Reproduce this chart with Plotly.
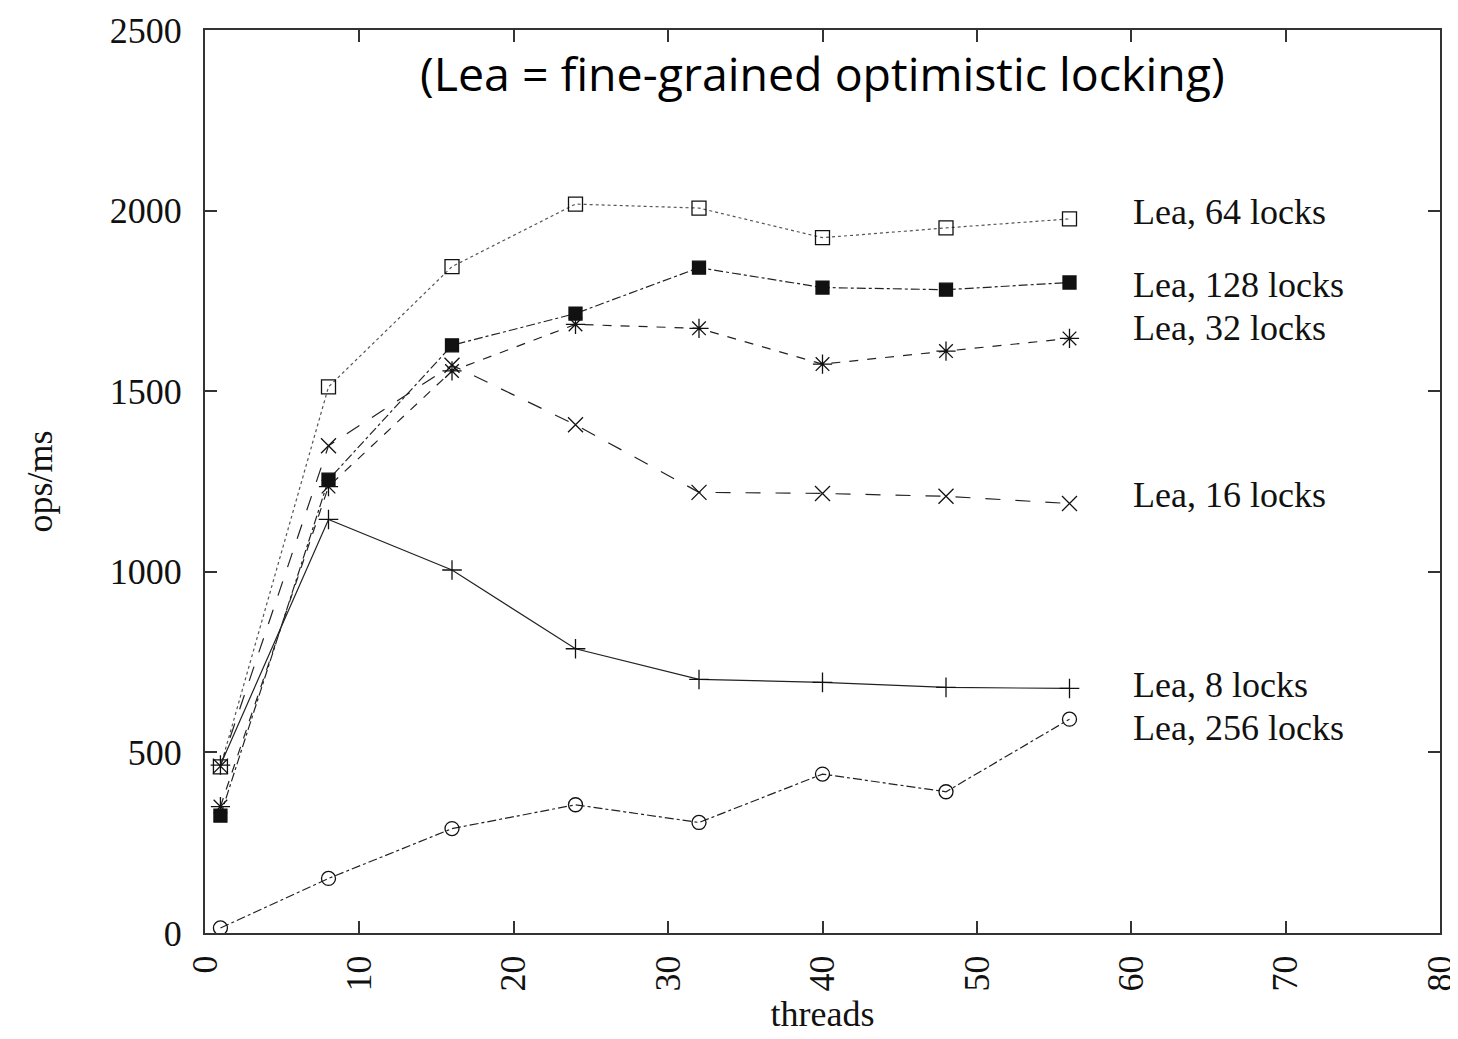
import plotly.graph_objects as go

threads = [1, 8, 16, 24, 32, 40, 48, 56]

lea_64 = [460, 1512, 1845, 2018, 2007, 1925, 1952, 1977]
lea_128 = [325, 1255, 1627, 1715, 1842, 1787, 1781, 1801]
lea_32 = [350, 1236, 1556, 1685, 1674, 1575, 1611, 1646]
lea_16 = [462, 1349, 1572, 1407, 1220, 1217, 1209, 1189]
lea_8 = [465, 1145, 1005, 787, 702, 694, 680, 677]
lea_256 = [14, 151, 289, 355, 306, 440, 391, 592]

names = ["Lea, 64 locks", "Lea, 128 locks", "Lea, 32 locks",
         "Lea, 16 locks", "Lea, 8 locks", "Lea, 256 locks"]
label_y = [1996, 1795, 1674, 1214, 686, 567]

serif = "Liberation Serif, Times New Roman, serif"

fig = go.Figure()

# (values, marker symbol, marker size, dash, colour)
series = [
    (lea_64, "square-open", 14, "dot", "#555"),
    (lea_128, "square", 13, "dashdot", "#222"),
    (lea_32, "asterisk-open", 16, "dash", "#222"),
    (lea_16, "x-thin-open", 15, "longdash", "#222"),
    (lea_8, "cross-thin-open", 14, "solid", "#222"),
    (lea_256, "circle-open", 14, "dashdot", "#222"),
]

for (vals, sym, size, dash, col), name in zip(series, names):
    fig.add_trace(go.Scatter(
        x=threads, y=vals, mode="lines+markers", name=name,
        line=dict(color=col, width=1.2, dash=dash),
        marker=dict(symbol=sym, size=size, color="#111",
                    line=dict(color="#111", width=1.3)),
    ))

for name, y in zip(names, label_y):
    fig.add_annotation(x=60, y=y, xref="x", yref="y", text=name,
                       showarrow=False, xanchor="left", yanchor="middle",
                       font=dict(family=serif, size=36, color="#111"))

fig.add_annotation(x=0.5, y=0.952, xref="paper", yref="paper",
                   text="(Lea = fine-grained optimistic locking)",
                   showarrow=False, xanchor="center", yanchor="middle",
                   font=dict(family="Open Sans, Lato, sans-serif", size=46.5, color="#000"))

axis_common = dict(showgrid=False, zeroline=False, showline=True, linecolor="#333",
                   linewidth=2, mirror="ticks", ticks="inside", ticklen=12,
                   tickcolor="#333", tickwidth=2, automargin=False,
                   ticklabeloverflow="allow",
                   tickfont=dict(family=serif, size=36, color="#111"))

fig.update_xaxes(range=[0, 80], dtick=10, tickangle=-90, ticklabelstandoff=6,
                 title=dict(text="threads", font=dict(family=serif, size=36, color="#111"), standoff=10),
                 **axis_common)
fig.update_yaxes(range=[0, 2500], dtick=500, ticklabelstandoff=14,
                 title=dict(text="ops/ms", font=dict(family=serif, size=36, color="#111"), standoff=46),
                 **axis_common)

fig.update_layout(
    width=1458, height=1039,
    margin=dict(l=197, r=26, t=22, b=114),
    plot_bgcolor="white", paper_bgcolor="white",
    showlegend=False,
)

fig.write_html("out.html")
